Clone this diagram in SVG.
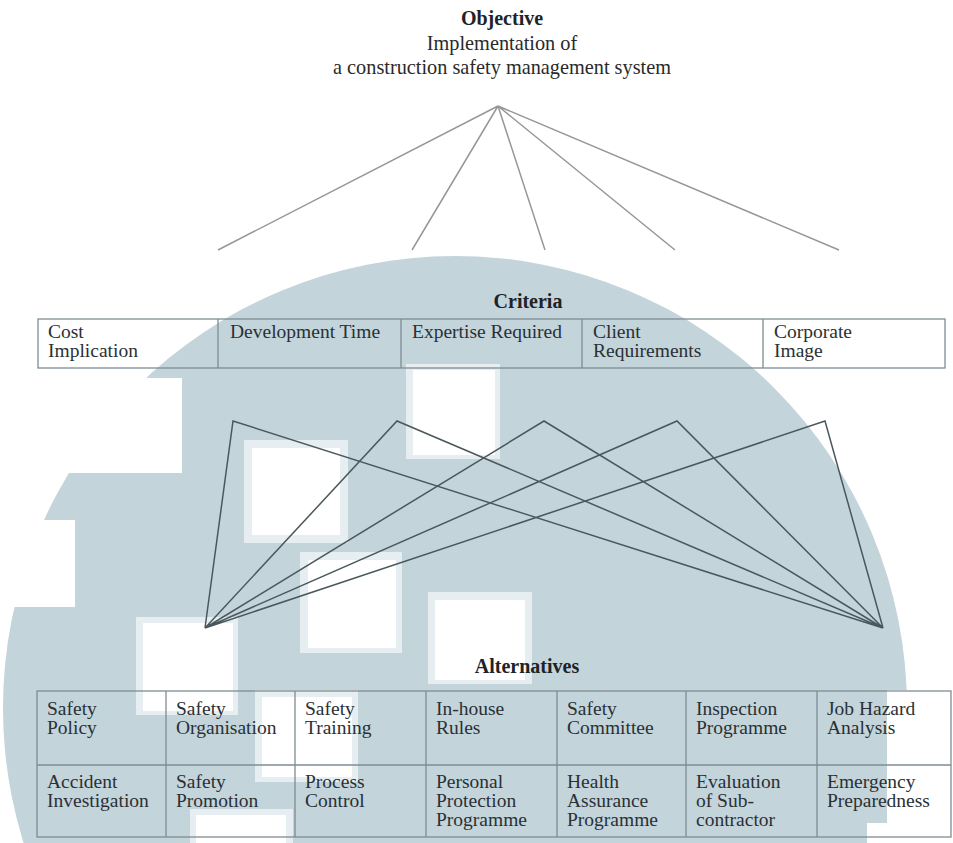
<svg xmlns="http://www.w3.org/2000/svg" width="953" height="843" viewBox="0 0 953 843">
<style>
.t{font-family:"Liberation Serif","Times New Roman",serif;font-size:19.5px;fill:#2a3034}
.h{font-family:"Liberation Serif","Times New Roman",serif;font-size:20px;font-weight:bold;fill:#1e2326}
.ti{font-family:"Liberation Serif","Times New Roman",serif;font-size:20.3px;fill:#2a2a2a}
.tbl{fill:none;stroke:#7f8d92;stroke-width:1.3}
.top{stroke:#979797;stroke-width:1.5;fill:none}
.low{stroke:#4a585d;stroke-width:1.5;fill:none}
.w{fill:#ffffff}
</style>
<rect x="0" y="0" width="953" height="843" fill="#ffffff"/>
<g id="background">
<circle cx="455" cy="708" r="452" fill="#c3d4db"/>
<rect class="w" x="0" y="378" width="182" height="95"/>
<rect class="w" x="0" y="520" width="75" height="87"/>
<rect class="w" x="887" y="690" width="66" height="153"/>
<rect class="w" x="867" y="823" width="86" height="20"/>
<rect x="244" y="440" width="104" height="103" fill="#e6eef1"/>
<rect class="w" x="252" y="448" width="88" height="87"/>
<rect x="406" y="364" width="94" height="95" fill="#e6eef1"/>
<rect class="w" x="413" y="370" width="82" height="85"/>
<rect x="300" y="552" width="102" height="101" fill="#e6eef1"/>
<rect class="w" x="308" y="560" width="88" height="88"/>
<rect x="428" y="592" width="104" height="92" fill="#e6eef1"/>
<rect class="w" x="435" y="600" width="90" height="80"/>
<rect x="136" y="617" width="102" height="98" fill="#e6eef1"/>
<rect class="w" x="143" y="623" width="90" height="88"/>
<rect x="255" y="690" width="103" height="92" fill="#e6eef1"/>
<rect class="w" x="262" y="697" width="90" height="80"/>
<rect x="190" y="809" width="103" height="34" fill="#e6eef1"/>
<rect class="w" x="196" y="815" width="90" height="28"/>
</g>
<g id="connectors">
<path class="top" d="M498 106 L218 250 M498 106 L412 250 M498 106 L545 250 M498 106 L675 250 M498 106 L839 250"/>
<path class="low" d="M205 628 L233 421 L883 628 M205 628 L397 421 L883 628 M205 628 L544 421 L883 628 M205 628 L677 421 L883 628 M205 628 L825 421 L883 628"/>
</g>
<g id="objective">
<text class="h" x="502" y="25" text-anchor="middle">Objective</text>
<text class="ti" x="502" y="50" text-anchor="middle">Implementation of</text>
<text class="ti" x="502" y="74" text-anchor="middle">a construction safety management system</text>
</g>
<g id="criteria">
<text class="h" x="528" y="308" text-anchor="middle">Criteria</text>
<rect class="tbl" x="38" y="319" width="907" height="49"/>
<path class="tbl" d="M218 319 V368 M401 319 V368 M582 319 V368 M763 319 V368"/>
<g id="c-cost"><text class="t" x="48" y="338">Cost</text><text class="t" x="48" y="357">Implication</text></g>
<g id="c-dev"><text class="t" x="230" y="338">Development Time</text></g>
<g id="c-exp"><text class="t" x="412" y="338">Expertise Required</text></g>
<g id="c-client"><text class="t" x="593" y="338">Client</text><text class="t" x="593" y="357">Requirements</text></g>
<g id="c-corp"><text class="t" x="774" y="338">Corporate</text><text class="t" x="774" y="357">Image</text></g>
</g>
<g id="alternatives">
<text class="h" x="527" y="673" text-anchor="middle">Alternatives</text>
<rect class="tbl" x="37" y="691" width="914" height="146"/>
<path class="tbl" d="M37 765 H951 M166 691 V837 M295 691 V837 M426 691 V837 M557 691 V837 M686 691 V837 M817 691 V837"/>
<g id="a1"><text class="t" x="47" y="715">Safety</text><text class="t" x="47" y="734">Policy</text></g>
<g id="a2"><text class="t" x="176" y="715">Safety</text><text class="t" x="176" y="734">Organisation</text></g>
<g id="a3"><text class="t" x="305" y="715">Safety</text><text class="t" x="305" y="734">Training</text></g>
<g id="a4"><text class="t" x="436" y="715">In-house</text><text class="t" x="436" y="734">Rules</text></g>
<g id="a5"><text class="t" x="567" y="715">Safety</text><text class="t" x="567" y="734">Committee</text></g>
<g id="a6"><text class="t" x="696" y="715">Inspection</text><text class="t" x="696" y="734">Programme</text></g>
<g id="a7"><text class="t" x="827" y="715">Job Hazard</text><text class="t" x="827" y="734">Analysis</text></g>
<g id="a8"><text class="t" x="47" y="788">Accident</text><text class="t" x="47" y="807">Investigation</text></g>
<g id="a9"><text class="t" x="176" y="788">Safety</text><text class="t" x="176" y="807">Promotion</text></g>
<g id="a10"><text class="t" x="305" y="788">Process</text><text class="t" x="305" y="807">Control</text></g>
<g id="a11"><text class="t" x="436" y="788">Personal</text><text class="t" x="436" y="807">Protection</text><text class="t" x="436" y="826">Programme</text></g>
<g id="a12"><text class="t" x="567" y="788">Health</text><text class="t" x="567" y="807">Assurance</text><text class="t" x="567" y="826">Programme</text></g>
<g id="a13"><text class="t" x="696" y="788">Evaluation</text><text class="t" x="696" y="807">of Sub-</text><text class="t" x="696" y="826">contractor</text></g>
<g id="a14"><text class="t" x="827" y="788">Emergency</text><text class="t" x="827" y="807">Preparedness</text></g>
</g>
</svg>
